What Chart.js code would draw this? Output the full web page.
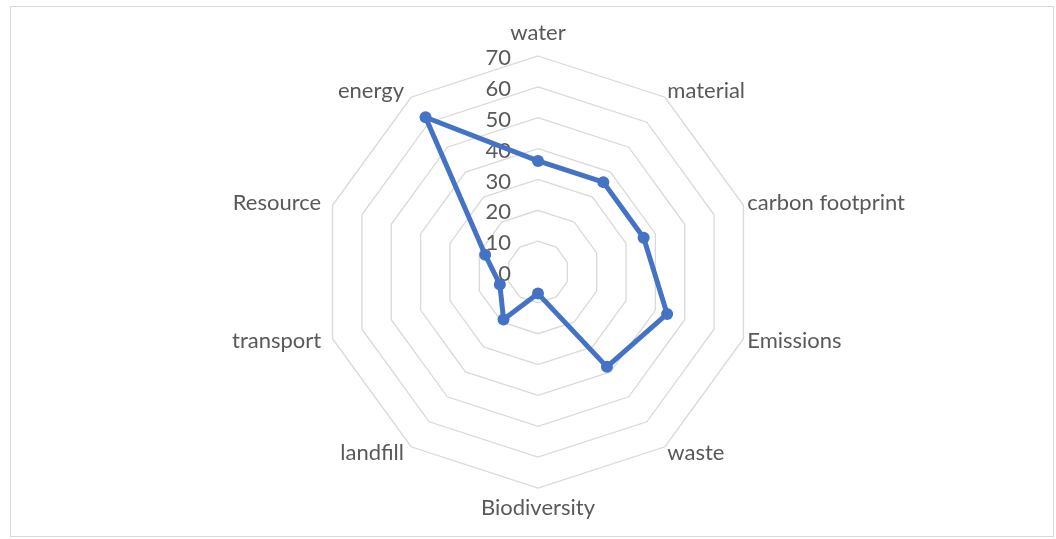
<!DOCTYPE html>
<html><head><meta charset="utf-8">
<script src="https://cdn.jsdelivr.net/npm/chart.js@4/dist/chart.umd.min.js"></script>
<style>html,body{margin:0;padding:0;background:#fff;} #wrap{position:relative;width:1056px;height:539px;}</style>
</head><body><div id="wrap"><canvas id="c" width="1056" height="539"></canvas></div>
<script>
const categories = ['water','material','carbon footprint','Emissions','waste','Biodiversity','landfill','transport','Resource','energy'];
const seriesValues = [36, 36, 36, 44, 38, 7, 19, 13, 18, 62];
const tickValues = [0, 10, 20, 30, 40, 50, 60, 70];

const FONT = '22px Lato';
const TEXT_COLOR = '#595959';

const decor = {
  id: 'decor',
  beforeDraw(chart) {
    const ctx = chart.ctx;
    ctx.save();
    ctx.fillStyle = '#ffffff';
    ctx.fillRect(0, 0, chart.width, chart.height);
    ctx.strokeStyle = '#d9d9d9';
    ctx.lineWidth = 1;
    ctx.strokeRect(10.5, 6.5, 1043, 530);
    ctx.restore();
  },
  beforeDatasetsDraw(chart) {
    const s = chart.scales.r;
    const ctx = chart.ctx;
    ctx.save();
    ctx.font = FONT;
    ctx.fillStyle = TEXT_COLOR;
    // tick labels placed left of the vertical axis
    ctx.textAlign = 'right';
    ctx.textBaseline = 'middle';
    tickValues.forEach(v => {
      const d = s.getDistanceFromCenterForValue(v);
      ctx.fillText(String(v), s.xCenter - 27, s.yCenter - d + 2);
    });
    // category labels
    const r = s.drawingArea;
    categories.forEach((lab, i) => {
      const a = s.getIndexAngle(i);
      const sn = Math.sin(a), cs = Math.cos(a);
      let x, y;
      if (Math.abs(sn) < 0.01) {
        ctx.textAlign = 'center';
        if (cs > 0) { ctx.textBaseline = 'bottom'; y = s.yCenter - (r + 12); }
        else { ctx.textBaseline = 'top'; y = s.yCenter + (r + 9); }
        x = s.xCenter;
      } else {
        ctx.textBaseline = 'middle';
        const padX = sn > 0 ? 4 : 12;
        ctx.textAlign = sn > 0 ? 'left' : 'right';
        x = s.xCenter + sn * (r + padX);
        y = s.yCenter - cs * (r + 8);
      }
      ctx.fillText(lab, x, y);
    });
    ctx.restore();
  }
};

new Chart(document.getElementById('c'), {
  type: 'radar',
  data: {
    labels: categories,
    datasets: [{
      data: seriesValues,
      borderColor: '#4472C4',
      backgroundColor: '#4472C4',
      borderWidth: 5,
      borderJoinStyle: 'round',
      pointRadius: 6,
      pointBorderWidth: 0,
      pointBackgroundColor: '#4472C4',
      fill: false,
      tension: 0
    }]
  },
  options: {
    responsive: false,
    animation: false,
    layout: { padding: { top: 56, bottom: 51, left: 20, right: 0 } },
    plugins: { legend: { display: false }, tooltip: { enabled: false } },
    scales: {
      r: {
        min: 0,
        max: 70,
        ticks: { stepSize: 10, display: false },
        grid: { color: '#d9d9d9', lineWidth: 1.3 },
        angleLines: { display: false },
        pointLabels: { display: false }
      }
    }
  },
  plugins: [decor]
});
</script>
</body></html>
